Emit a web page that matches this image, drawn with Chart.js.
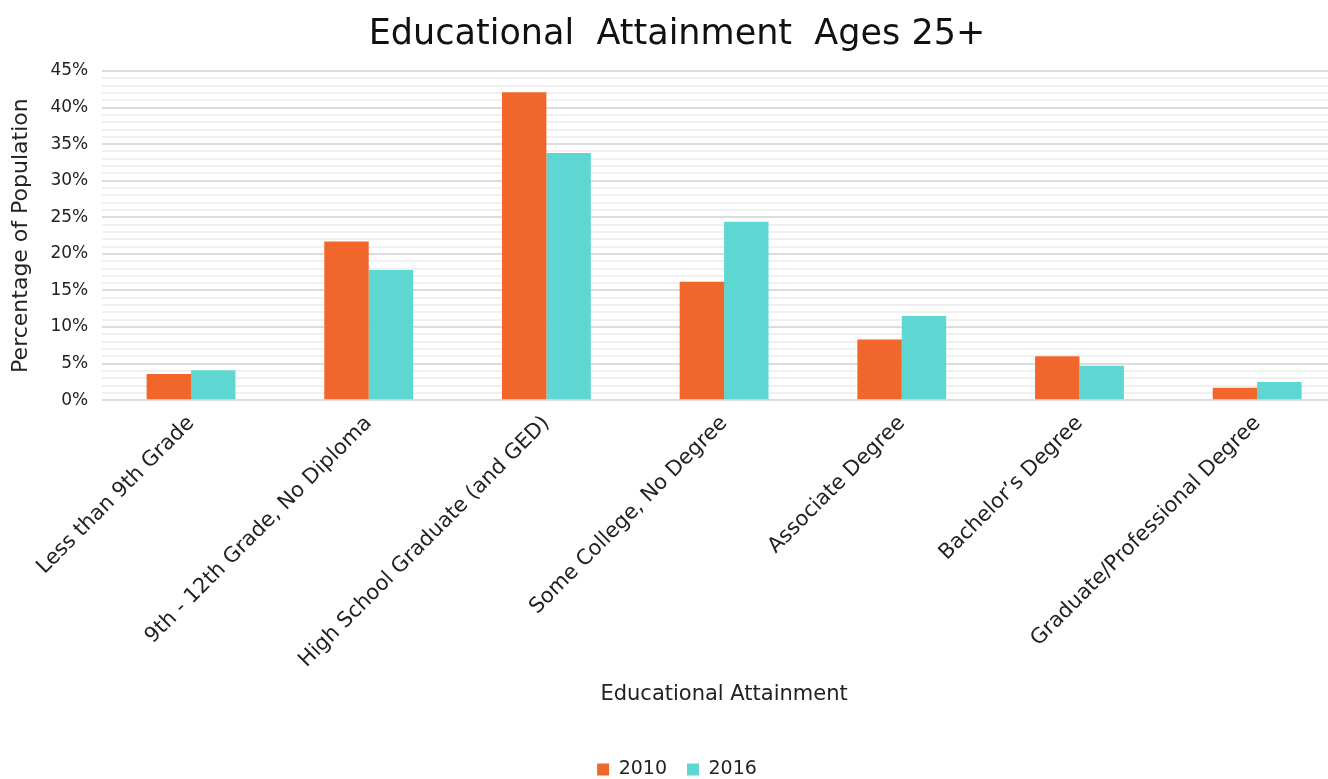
<!DOCTYPE html>
<html>
<head>
<meta charset="utf-8">
<script src="https://cdn.jsdelivr.net/npm/chart.js@4/dist/chart.umd.min.js"></script>
<style>
  html, body { margin: 0; padding: 0; background: #fff; overflow: hidden; }
  #wrap { width: 1352px; height: 779px; }
</style>
</head>
<body>
<div id="wrap"><canvas id="chart" width="1352" height="779"></canvas></div>
<script>
// data, in percent
const categories = [
  'Less than 9th Grade',
  '9th - 12th Grade, No Diploma',
  'High School Graduate (and GED)',
  'Some College, No Degree',
  'Associate Degree',
  'Bachelor\u2019s Degree',
  'Graduate/Professional Degree'
];
const seriesNames = ['2010', '2016'];
const values2010 = [3.6, 21.7, 42.1, 16.2, 8.3, 6.0, 1.7];
const values2016 = [4.1, 17.8, 33.8, 24.4, 11.5, 4.7, 2.5];
const yMax = 45;
const yMajorStep = 5;

const ORANGE = '#f1672b';
const TEAL = '#5ed6d1';
const FONT = "'DejaVu Sans', sans-serif";

const ctx = document.getElementById('chart');

const chart = new Chart(ctx, {
  type: 'bar',
  data: {
    labels: categories,
    datasets: [
      {
        label: seriesNames[0],
        data: values2010,
        backgroundColor: ORANGE
      },
      {
        label: seriesNames[1],
        data: values2016,
        backgroundColor: TEAL
      }
    ]
  },
  options: {
    responsive: false,
    animation: false,
    categoryPercentage: 0.5,
    barPercentage: 1,
    layout: {
      padding: { left: 8, right: 6, top: 14, bottom: -10 }
    },
    scales: {
      x: {
        grid: { display: false },
        border: { display: false },
        ticks: {
          minRotation: 45,
          maxRotation: 45,
          autoSkip: false,
          padding: 3,
          color: '#222',
          font: { family: FONT, size: 21 }
        },
        title: {
          display: true,
          text: 'Educational Attainment',
          color: '#222',
          font: { family: FONT, size: 21 },
          padding: { top: 6, bottom: 33 }
        }
      },
      y: {
        min: 0,
        max: yMax,
        border: { display: false },
        grid: {
          drawTicks: false,
          lineWidth: 2,
          color: (c) => (c.tick && c.tick.value % yMajorStep === 0) ? '#dcdcdc' : '#f0f0f0'
        },
        ticks: {
          stepSize: 1,
          autoSkip: false,
          padding: 14,
          color: '#222',
          font: { family: FONT, size: 17 },
          callback: (v) => (v % yMajorStep === 0 ? v + '%' : '')
        },
        title: {
          display: true,
          text: 'Percentage of Population',
          color: '#222',
          font: { family: FONT, size: 22 },
          padding: { top: 0, bottom: 2 }
        }
      }
    },
    plugins: {
      title: {
        display: true,
        text: 'Educational  Attainment  Ages 25+',
        color: '#111',
        font: { family: FONT, size: 35, weight: 'normal' },
        padding: { top: 0, bottom: 15 }
      },
      legend: {
        position: 'bottom',
        labels: {
          boxWidth: 12,
          boxHeight: 12,
          color: '#222',
          font: { family: FONT, size: 19 },
          padding: 20
        }
      },
      tooltip: { enabled: false }
    }
  }
});
</script>
</body>
</html>
